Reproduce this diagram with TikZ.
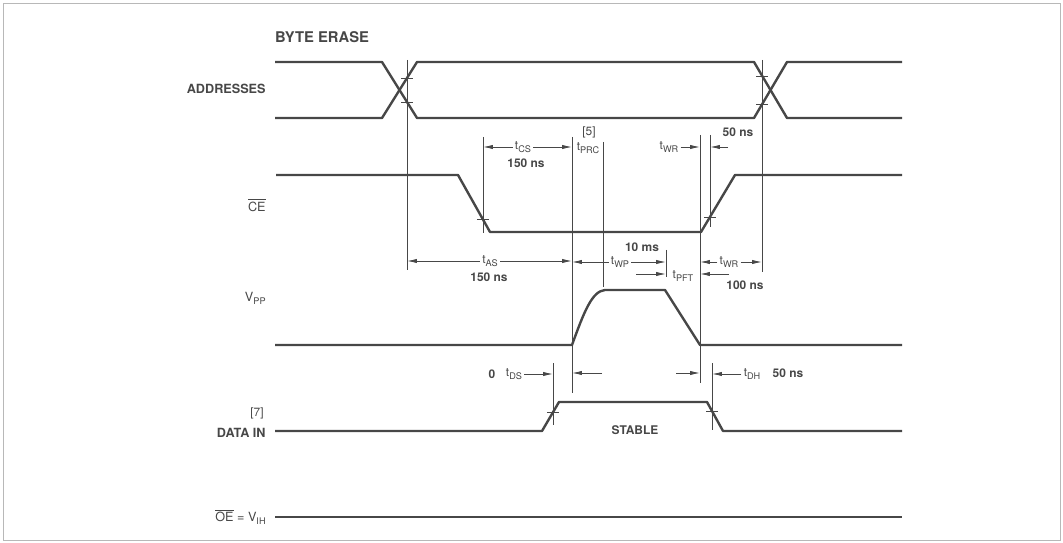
\documentclass[tikz,border=0pt]{standalone}
\usepackage{fontspec}
\setmainfont{TeX Gyre Heros}
\usepackage{xcolor}
\usetikzlibrary{arrows.meta,calc}

\definecolor{inkgray}{HTML}{474747}
\definecolor{framegray}{HTML}{B8B8B8}

\newcommand{\tsub}[2]{#1\raisebox{-0.45ex}{\fontsize{6.5}{7}\selectfont #2}}

\tikzstyle{tsSignal} = [
    draw=inkgray,
    line width=1.7pt,
    line join=round]
\tikzstyle{tsGuide} = [
    draw=inkgray,
    line width=0.6pt]
\tikzstyle{tsDim} = [
    tsGuide,
    -{Latex[length=7pt,width=3pt]}]
\tikzstyle{tsLabel} = [
    text=inkgray,
    inner sep=1.5pt,
    font=\fontsize{8.5}{9}\selectfont]
\tikzstyle{tsBold} = [
    tsLabel,
    font=\bfseries\fontsize{8.5}{9}\selectfont]
\tikzstyle{tsName} = [
    tsBold,
    anchor=east,
    font=\bfseries\fontsize{9}{10}\selectfont]

\begin{document}
\begin{tikzpicture}[x=0.025cm, y=-0.025cm]

        \useasboundingbox (0,0) rectangle (1063,543);
        \draw[framegray, line width=0.6pt] (3,3) rectangle (1060,540);

        % signal names
        \node[tsBold, font=\bfseries\fontsize{10.5}{11}\selectfont] (title) at (322,37) {BYTE ERASE};
        \node[tsName] (addr) at (268,89) {ADDRESSES};
        \node[tsName, font=\fontsize{9}{10}\selectfont] (ce) at (268,205) {$\overline{\mbox{CE}}$};
        \node[tsName, font=\fontsize{9}{10}\selectfont] (vpp) at (268,298) {\tsub{V}{PP}};
        \node[tsLabel, anchor=east] (note7) at (266,413) {[7]};
        \node[tsName] (din) at (268,433) {DATA IN};
        \node[tsName, font=\fontsize{9}{10}\selectfont] (oe) at (268,517) {$\overline{\mbox{OE}}$ = \tsub{V}{IH}};

        % waveforms
        \draw[tsSignal] (275,62) -- (382,62) -- (417,118) -- (754,118) -- (787,62) -- (902,62);
        \draw[tsSignal] (275,118) -- (382,118) -- (417,62) -- (754,62) -- (787,118) -- (902,118);
        \draw[tsSignal] (276,175) -- (458,175) -- (490,232) -- (701,232) -- (735,175) -- (902,175);
        \draw[tsSignal] (275,345) -- (572,345) .. controls (584,312) and (592,291) .. (605,290)
                        -- (665,290) -- (700,345) -- (902,345);
        \draw[tsSignal] (275,431) -- (542,431) -- (559,402) -- (707,402) -- (723,431) -- (902,431);
        \draw[tsSignal] (275,517) -- (902,517);

        % reference lines
        \coordinate (asTop) at (407,60);   \coordinate (asBot) at (407,270);
        \coordinate (wrTop) at (762,60);   \coordinate (wrBot) at (762,272);
        \coordinate (csTop) at (483,137);  \coordinate (csBot) at (483,233);
        \coordinate (prcTop) at (572,137); \coordinate (prcBot) at (572,393);
        \coordinate (wpTop) at (603,142);  \coordinate (wpBot) at (603,287);
        \coordinate (endTop) at (700,135); \coordinate (endBot) at (700,383);
        \coordinate (ceTop) at (710,135);  \coordinate (ceBot) at (710,227);
        \coordinate (pftTop) at (666,250); \coordinate (pftBot) at (666,277);
        \coordinate (dsTop) at (553,363);  \coordinate (dsBot) at (553,425);
        \coordinate (dhTop) at (712,363);  \coordinate (dhBot) at (712,430);

        \foreach \a/\b in {asTop/asBot, wrTop/wrBot, csTop/csBot, prcTop/prcBot, wpTop/wpBot,
                           endTop/endBot, ceTop/ceBot, pftTop/pftBot, dsTop/dsBot, dhTop/dhBot}
            \draw[tsGuide] (\a) -- (\b);

        % crossing marks
        \foreach \x/\y in {407/78, 407/102, 762/76, 762/104, 483/219, 710/217, 553/412, 712/411}
            \draw[tsGuide] (\x-6,\y) -- (\x+6,\y);

        % t_CS, t_PRC, t_WR
        \node[tsLabel] (tcs) at (523,147) {\tsub{t}{CS}};
        \node[tsBold] (tcsval) at (526,163) {150 ns};
        \draw[tsDim] (tcs.west) -- (tcs.west -| csTop);
        \draw[tsDim] (tcs.east) -- (tcs.east -| prcTop);
        \node[tsLabel] (note5) at (589,132) {[5]};
        \node[tsLabel] (tprc) at (588,148) {\tsub{t}{PRC}};
        \node[tsLabel] (twra) at (669,147) {\tsub{t}{WR}};
        \draw[tsDim] (twra.east) -- (twra.east -| endTop);
        \node[tsBold] (twraval) at (738,132) {50 ns};
        \coordinate (twratail) at (728,147);
        \draw[tsDim] (twratail) -- (twratail -| ceTop);

        % t_AS, t_WP, t_PFT, t_WR
        \node[tsLabel] (tas) at (490,261) {\tsub{t}{AS}};
        \node[tsBold] (tasval) at (489,277) {150 ns};
        \draw[tsDim] (tas.west) -- (tas.west -| asTop);
        \draw[tsDim] (tas.east) -- (tas.east -| prcTop);
        \node[tsBold] (twpval) at (642,247) {10 ms};
        \node[tsLabel] (twp) at (620,262) {\tsub{t}{WP}};
        \draw[tsDim] (twp.west) -- (twp.west -| prcTop);
        \draw[tsDim] (twp.east) -- (twp.east -| pftTop);
        \node[tsLabel] (tpft) at (683,276) {\tsub{t}{PFT}};
        \coordinate (pftin) at (636,274);
        \coordinate (pftout) at (729,274);
        \draw[tsDim] (pftin) -- (pftin -| pftTop);
        \draw[tsDim] (pftout) -- (pftout -| endTop);
        \node[tsLabel] (twrb) at (729,262) {\tsub{t}{WR}};
        \draw[tsDim] (twrb.west) -- (twrb.west -| endTop);
        \draw[tsDim] (twrb.east) -- (twrb.east -| wrTop);
        \node[tsBold] (twrbval) at (745,285) {100 ns};

        % t_DS, t_DH
        \node[tsBold] (tdszero) at (492,374) {0};
        \node[tsLabel] (tds) at (514,374) {\tsub{t}{DS}};
        \draw[tsDim] (tds.east) -- (tds.east -| dsTop);
        \coordinate (dsin) at (602,373);
        \coordinate (dhin) at (676,373);
        \draw[tsDim] (dsin) -- (dsin -| prcTop);
        \draw[tsDim] (dhin) -- (dhin -| endTop);
        \node[tsLabel] (tdh) at (752,374) {\tsub{t}{DH}};
        \draw[tsDim] (tdh.west) -- (tdh.west -| dhTop);
        \node[tsBold] (tdhval) at (788,373) {50 ns};

        \node[tsBold] (stable) at (635,430) {STABLE};

\end{tikzpicture}
\end{document}
